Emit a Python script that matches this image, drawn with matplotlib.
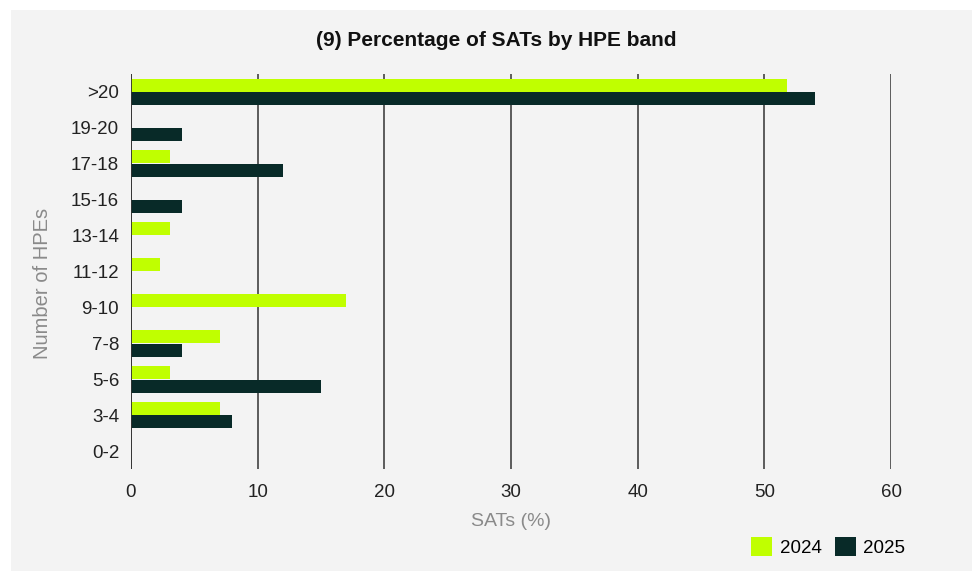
import matplotlib
matplotlib.use("Agg")
import matplotlib.pyplot as plt
from matplotlib.patches import Rectangle, Patch
import numpy as np

plt.rcParams['font.family'] = ['Liberation Sans', 'DejaVu Sans']

bands = [">20", "19-20", "17-18", "15-16", "13-14", "11-12", "9-10", "7-8", "5-6", "3-4", "0-2"]
sats_2024 = [51.8, 0, 3.1, 0, 3.1, 2.3, 17.0, 7.0, 3.1, 7.0, 0]
sats_2025 = [54.0, 4.0, 12.0, 4.0, 0, 0, 0, 4.0, 15.0, 8.0, 0]
x_ticks = [0, 10, 20, 30, 40, 50, 60]

color_2024 = "#c0ff00"
color_2025 = "#082a28"
panel_bg = "#f3f3f3"

fig = plt.figure(figsize=(9.72, 5.71), dpi=100, facecolor="white")
fig.patches.append(Rectangle((11 / 972, 0), 1, 1 - 10 / 571, transform=fig.transFigure,
                             facecolor=panel_bg, edgecolor="none", zorder=-10))

ax = fig.add_axes([131 / 972, 1 - 469 / 571, 760 / 972, 395 / 571])
ax.set_facecolor(panel_bg)

y = np.arange(len(bands))
h = 0.36
off = 0.19
ax.barh(y - off, sats_2024, height=h, color=color_2024, label="2024", zorder=3)
ax.barh(y + off, sats_2025, height=h, color=color_2025, label="2025", zorder=3)

ax.set_ylim(len(bands) - 0.5, -0.5)
ax.set_xlim(0, 60)
ax.set_xticks(x_ticks)
ax.set_yticks(y)
ax.set_yticklabels(bands)
ax.tick_params(axis="both", length=0, labelsize=13.5, colors="#222222")
ax.tick_params(axis="x", pad=11)
ax.tick_params(axis="y", pad=8.5)
for s in ax.spines.values():
    s.set_visible(False)
ax.grid(axis="x", color="#333333", linewidth=1.1, zorder=1)
ax.axvline(0, color="#333333", linewidth=1.3, zorder=4)
ax.set_axisbelow(True)

ax.set_xlabel("SATs (%)", fontsize=14, color="#8a8a8a")
ax.xaxis.set_label_coords(0.5, -(522 - 469) / 395, transform=ax.transAxes)
ax.xaxis.label.set_va("center")
ax.set_ylabel("Number of HPEs", fontsize=14.5, color="#8a8a8a")
ax.yaxis.set_label_coords(-(131 - 43) / 760, (469 - 283) / 395, transform=ax.transAxes)
ax.yaxis.label.set_va("center")

fig.text(496 / 972, 1 - 40 / 571, "(9) Percentage of SATs by HPE band",
         ha="center", va="center", fontsize=15, fontweight="bold", color="#111111")

handles = [Patch(facecolor=color_2024, label="2024"), Patch(facecolor=color_2025, label="2025")]
fig.legend(handles=handles, loc="center right", bbox_to_anchor=(905 / 972, 1 - 547 / 571),
           ncol=2, frameon=False, fontsize=13.5, handlelength=1.12, handleheight=1.12,
           handletextpad=0.4, columnspacing=0.7, borderaxespad=0, borderpad=0)

fig.savefig("out.png", dpi=100, facecolor=fig.get_facecolor())
